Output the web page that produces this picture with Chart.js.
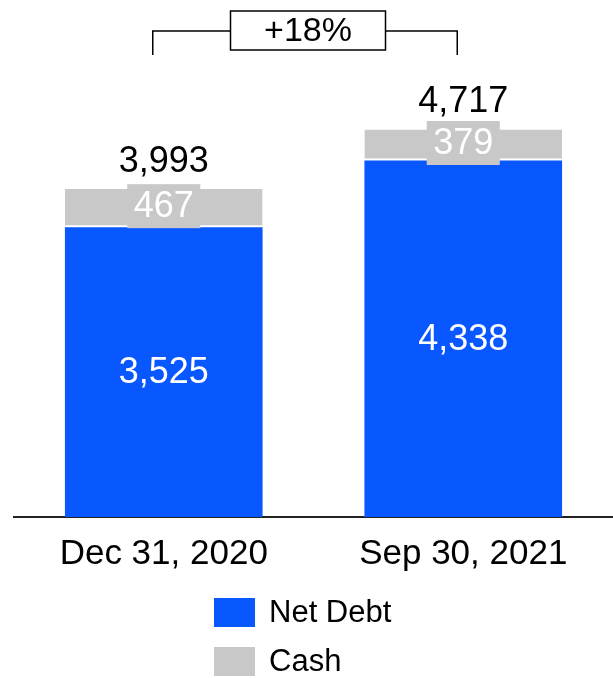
<!DOCTYPE html>
<html>
<head>
<meta charset="utf-8">
<script src="https://cdn.jsdelivr.net/npm/chart.js@4.4.1/dist/chart.umd.min.js"></script>
<style>
  html, body { margin: 0; padding: 0; background: #fff; overflow: hidden; }
  canvas { display: block; }
</style>
</head>
<body>
<canvas id="chart" width="613" height="678"></canvas>
<script>
// Period labels and values (millions)
const periods = ['Dec 31, 2020', 'Sep 30, 2021'];
const netDebt = [3525, 4338];
const cash = [467, 379];
const totals = [3993, 4717];

const BLUE = '#0957FF';
const GREY = '#C8C8C8';
const FONT = '"Liberation Sans", Arial, Helvetica, sans-serif';

const fmt = v => v.toLocaleString('en-US');

// Segment values, total labels and the growth bracket
const labelPlugin = {
  id: 'labels',
  afterDatasetsDraw(chart) {
    const ctx = chart.ctx;
    const xs = chart.scales.x, ys = chart.scales.y;
    ctx.save();
    ctx.textAlign = 'center';
    ctx.textBaseline = 'middle';
    ctx.font = '36px ' + FONT;

    // Net debt values, centered in the blue segment
    chart.getDatasetMeta(0).data.forEach((bar, i) => {
      const mid = (bar.y + bar.base) / 2;
      ctx.fillStyle = '#fff';
      ctx.fillText(fmt(netDebt[i]), bar.x, mid + 1);
    });

    // Cash values on a grey tag
    chart.getDatasetMeta(1).data.forEach((bar, i) => {
      const mid = (bar.y + bar.base) / 2 - 2;
      const txt = fmt(cash[i]);
      const w = ctx.measureText(txt).width + 13;
      const h = 44;
      ctx.fillStyle = GREY;
      ctx.fillRect(bar.x - w / 2, mid - h / 2, w, h);
      ctx.fillStyle = '#fff';
      ctx.fillText(txt, bar.x, mid + 1);
    });

    // Totals above each stack
    totals.forEach((t, i) => {
      const x = xs.getPixelForValue(i);
      const top = ys.getPixelForValue(t);
      ctx.fillStyle = '#000';
      ctx.fillText(fmt(t), x, top - 27);
    });

    // Growth bracket between the two totals
    const growth = Math.round((totals[1] / totals[0] - 1) * 100);
    const xl = xs.getPixelForValue(0) - 11;
    const xr = xs.getPixelForValue(1) - 6;
    const yLine = 31, yFoot = 55;
    const cx = (xl + xr) / 2 + 3;
    const bw = 155, bh = 39;
    ctx.strokeStyle = '#000';
    ctx.lineWidth = 1.5;
    ctx.beginPath();
    ctx.moveTo(xl, yFoot); ctx.lineTo(xl, yLine); ctx.lineTo(cx - bw / 2, yLine);
    ctx.moveTo(cx + bw / 2, yLine); ctx.lineTo(xr, yLine); ctx.lineTo(xr, yFoot);
    ctx.stroke();
    ctx.fillStyle = '#fff';
    ctx.fillRect(cx - bw / 2, yLine - 20, bw, bh);
    ctx.strokeRect(cx - bw / 2, yLine - 20, bw, bh);
    ctx.fillStyle = '#000';
    ctx.font = '34px ' + FONT;
    ctx.fillText((growth >= 0 ? '+' : '') + growth + '%', cx, yLine + 1);
    ctx.restore();
  }
};

// Stacked legend under the axis labels
const legendPlugin = {
  id: 'stackLegend',
  afterDraw(chart) {
    const ctx = chart.ctx;
    const items = chart.data.datasets;
    ctx.save();
    ctx.font = '31px ' + FONT;
    ctx.textBaseline = 'middle';
    ctx.textAlign = 'left';
    const boxW = 41, boxH = 29, gap = 14;
    const textW = Math.max(...items.map(d => ctx.measureText(d.label).width));
    const x0 = Math.round((chart.width - (boxW + gap + textW)) / 2) - 4;
    items.forEach((d, i) => {
      const y = 598 + i * 49;
      ctx.fillStyle = d.backgroundColor;
      ctx.fillRect(x0, y, boxW, boxH);
      ctx.fillStyle = '#000';
      ctx.fillText(d.label, x0 + boxW + gap, y + boxH / 2 + 1);
    });
    ctx.restore();
  }
};

new Chart(document.getElementById('chart'), {
  type: 'bar',
  data: {
    labels: periods,
    datasets: [
      { label: 'Net Debt', data: netDebt, backgroundColor: BLUE, borderWidth: 0 },
      {
        label: 'Cash', data: cash, backgroundColor: GREY,
        borderColor: '#fff', borderSkipped: false,
        borderWidth: { top: 0, left: 0, right: 0, bottom: 2 }
      }
    ]
  },
  options: {
    responsive: false,
    animation: false,
    events: [],
    layout: { padding: { top: 24, left: 14, right: 0, bottom: 87 } },
    datasets: { bar: { categoryPercentage: 1, barPercentage: 0.66 } },
    plugins: { legend: { display: false }, tooltip: { enabled: false } },
    scales: {
      x: {
        stacked: true,
        grid: { display: false, drawTicks: false },
        border: { display: true, color: '#222', width: 2 },
        ticks: { color: '#000', font: { family: FONT, size: 35 }, padding: 16 }
      },
      y: { stacked: true, display: false, min: 0, max: 6000 }
    }
  },
  plugins: [labelPlugin, legendPlugin]
});
</script>
</body>
</html>
